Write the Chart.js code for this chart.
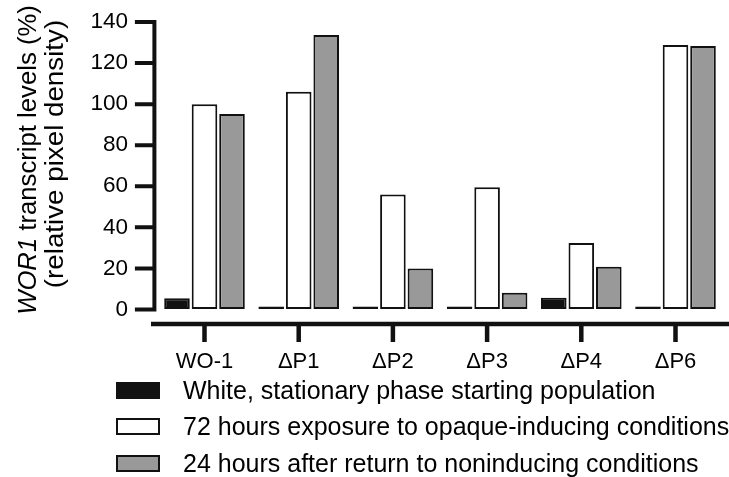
<!DOCTYPE html>
<html>
<head>
<meta charset="utf-8">
<script src="https://cdn.jsdelivr.net/npm/chart.js@4.4.1/dist/chart.umd.min.js"></script>
<style>
body { margin: 0; background: #fff; font-family: "Liberation Sans", Arial, sans-serif; }
#wrap { position: relative; width: 729px; height: 477px; overflow: hidden; }
#chartBox { position: absolute; left: 0; top: 0; width: 729px; height: 380px; }
.row { position: absolute; left: 0; height: 30px; display: flex; align-items: center; font-size: 25px; color: #000; white-space: nowrap; }
.sw { margin-left: 116px; width: 44px; height: 17px; box-sizing: border-box; border: 2px solid #111; flex: none; }
.row span { margin-left: 23px; }
</style>
</head>
<body>
<div id="wrap">
  <div id="chartBox"><canvas id="barChart"></canvas></div>
  <div id="legend"></div>
</div>
<script>
// data
var categories = ['WO-1', 'ΔP1', 'ΔP2', 'ΔP3', 'ΔP4', 'ΔP6'];
var startWhite = [5.5, 0, 0, 0, 5.7, 0];
var opaque72h = [100, 106, 56, 59.5, 32.4, 128.8];
var return24h = [95.2, 133.7, 20, 8.2, 20.8, 128.3];
var yTicks = [0, 20, 40, 60, 80, 100, 120, 140];
var seriesNames = [
    'White, stationary phase starting population',
    '72 hours exposure to opaque-inducing conditions',
    '24 hours after return to noninducing conditions'
];
var fills = ['#111', '#fff', '#999'];
var legendRows = [375, 411.5, 448];

var ink = '#111';
var fontFamily = '"Liberation Sans", Arial, sans-serif';

// axes drawn offset like the original (x axis sits below the y axis)
var axesPlugin = {
    id: 'offsetAxes',
    afterDraw: function (chart) {
        var c = chart.ctx, area = chart.chartArea;
        var ys = chart.scales.y, xs = chart.scales.x;
        var axisX = area.left - 3;
        c.save();
        c.strokeStyle = ink;
        c.lineWidth = 4;
        c.beginPath();
        c.moveTo(axisX, ys.getPixelForValue(140) - 2);
        c.lineTo(axisX, ys.getPixelForValue(0) + 2);
        yTicks.forEach(function (v) {
            var py = ys.getPixelForValue(v);
            c.moveTo(axisX - 19.5, py);
            c.lineTo(axisX + 2, py);
        });
        c.stroke();

        var axisY = area.bottom + 14.5;
        c.lineWidth = 4.5;
        c.beginPath();
        c.moveTo(151, axisY);
        c.lineTo(chart.width, axisY);
        categories.forEach(function (cat, i) {
            var px = xs.getPixelForValue(i);
            c.moveTo(px, axisY);
            c.lineTo(px, axisY + 18);
        });
        c.stroke();

        // y title, two lines, WOR1 in italics
        c.fillStyle = '#000';
        c.textBaseline = 'middle';
        c.textAlign = 'left';
        var fItal = 'italic 25.7px ' + fontFamily;
        var fNorm = '25.7px ' + fontFamily;
        var p1 = 'WOR1', p2 = ' transcript levels (%)';
        c.font = fItal; var w1 = c.measureText(p1).width;
        c.font = fNorm; var w2 = c.measureText(p2).width;
        c.save();
        c.translate(29, 160);
        c.rotate(-Math.PI / 2);
        c.font = fItal;
        c.fillText(p1, -(w1 + w2) / 2, 0);
        c.font = fNorm;
        c.fillText(p2, -(w1 + w2) / 2 + w1, 0);
        c.restore();
        c.save();
        c.translate(56, 154);
        c.rotate(-Math.PI / 2);
        c.scale(1.08, 1);
        c.textAlign = 'center';
        c.font = fNorm;
        c.fillText('(relative pixel density)', 0, 0);
        c.restore();
        c.restore();
    }
};

var datasets = [startWhite, opaque72h, return24h].map(function (vals, i) {
    return {
        label: seriesNames[i],
        data: vals,
        backgroundColor: fills[i],
        borderColor: ink,
        borderWidth: 2,
        borderSkipped: false,
        minBarLength: 3,
        categoryPercentage: 0.876,
        barPercentage: 0.93,
        clip: false
    };
});

// hidden grid ticks only reserve the space between axis and labels
var spacerGrid = function (len) {
    return { display: true, drawOnChartArea: false, drawTicks: true, tickLength: len, color: 'rgba(0,0,0,0)' };
};

var ctx = document.getElementById('barChart').getContext('2d');
var barChart = new Chart(ctx, {
    type: 'bar',
    data: { labels: categories, datasets: datasets },
    options: {
        responsive: true,
        maintainAspectRatio: false,
        animation: false,
        layout: { padding: { top: 22, right: 6.4, bottom: 0, left: 0 } },
        plugins: { legend: { display: false }, tooltip: { enabled: false } },
        scales: {
            x: {
                grid: spacerGrid(37),
                border: { display: false },
                ticks: { color: '#000', padding: 2, font: { size: 22, family: fontFamily } },
                afterFit: function (s) { s.height = 70.5; }
            },
            y: {
                min: 0,
                max: 140,
                grid: spacerGrid(27.4),
                border: { display: false },
                ticks: { color: '#000', padding: 2, font: { size: 22.5, family: fontFamily } },
                afterBuildTicks: function (s) { s.ticks = yTicks.map(function (v) { return { value: v }; }); },
                afterFit: function (s) { s.width = 157.4; }
            }
        }
    },
    plugins: [axesPlugin]
});

// legend rows
var legend = document.getElementById('legend');
seriesNames.forEach(function (name, i) {
    var row = document.createElement('div');
    row.className = 'row';
    row.style.top = legendRows[i] + 'px';
    var sw = document.createElement('div');
    sw.className = 'sw';
    sw.style.background = fills[i];
    var txt = document.createElement('span');
    txt.textContent = name;
    row.appendChild(sw);
    row.appendChild(txt);
    legend.appendChild(row);
});
</script>
</body>
</html>
